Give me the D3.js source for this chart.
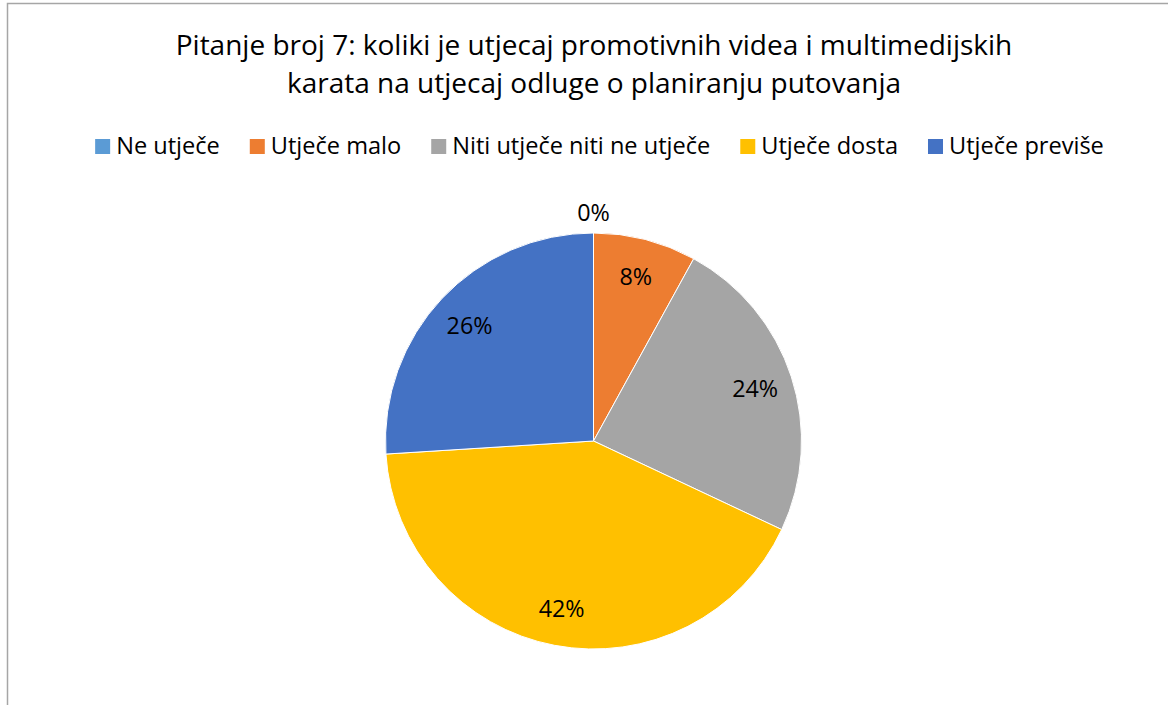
<!DOCTYPE html>
<html>
<head>
<meta charset="utf-8">
<script src="https://cdn.jsdelivr.net/npm/d3@7"></script>
<style>
  html, body { margin: 0; padding: 0; background: #fff; }
  svg { display: block; }
  text { font-family: "Open Sans", Lato, sans-serif; fill: #000; }
</style>
</head>
<body>
<svg id="chart" width="1168" height="705"></svg>
<script>
const titleLines = ["Pitanje broj 7: koliki je utjecaj promotivnih videa i multimedijskih",
                    "karata na utjecaj odluge o planiranju putovanja"];
const categories = ["Ne utječe", "Utječe malo", "Niti utječe niti ne utječe", "Utječe dosta", "Utječe previše"];
const counts = [0, 4, 12, 21, 13];
const colors = ["#5B9BD5", "#ED7D31", "#A5A5A5", "#FFC000", "#4472C4"];

const svg = d3.select("#chart");
const W = 1168, H = 705;

// chart border (extends past right/bottom edges)
svg.append("rect").attr("x", 7.5).attr("y", 3.5).attr("width", W + 20).attr("height", H + 20)
  .attr("fill", "#fff").attr("stroke", "#A6A6A6").attr("stroke-width", 1.5);

// title, font fitted to reference width
const title = svg.append("text").attr("text-anchor", "middle").attr("font-size", 24);
title.selectAll("tspan").data(titleLines).join("tspan")
  .attr("x", 594).attr("y", (d, i) => 55 + i * 38).text(d => d);
{
  const t1 = title.select("tspan").node();
  const w = t1.getComputedTextLength();
  title.attr("font-size", 24 * 837 / w);
}

// legend
const legendG = svg.append("g");
function layoutLegend(fs) {
  legendG.selectAll("*").remove();
  legendG.attr("font-size", fs);
  let lx = 0;
  categories.forEach((c, i) => {
    const g = legendG.append("g").attr("transform", `translate(${lx},0)`);
    g.append("rect").attr("x", 0).attr("y", 139).attr("width", 15).attr("height", 15).attr("fill", colors[i]);
    const t = g.append("text").attr("x", 21).attr("y", 153.5).text(c);
    const w = t.node().getComputedTextLength();
    lx += 21 + w + (i < categories.length - 1 ? 30 : 0);
  });
  return lx;
}
let total0 = layoutLegend(20);
let fsL = 20 * (1009 - 4 * 30 - 5 * 21) / (total0 - 4 * 30 - 5 * 21);
const totalL = layoutLegend(fsL);
legendG.attr("transform", `translate(${599.5 - totalL / 2},0)`);

// pie
const cx = 593.5, cy = 441, R = 208;
const total = d3.sum(counts);
const pie = d3.pie().value(d => d).sort(null).startAngle(0).endAngle(2 * Math.PI);
const arcs = pie(counts);
const arc = d3.arc().innerRadius(0).outerRadius(R);
const labelArc = d3.arc().innerRadius(170).outerRadius(170);
const outerLabelArc = d3.arc().innerRadius(R + 21).outerRadius(R + 21);

const pg = svg.append("g").attr("transform", `translate(${cx},${cy})`);
pg.selectAll("path").data(arcs).join("path")
  .attr("d", arc).attr("fill", (d, i) => colors[i])
  .attr("stroke", "#fff").attr("stroke-width", 1);

const labels = pg.selectAll("text.lbl").data(arcs).join("text").attr("class", "lbl")
  .attr("text-anchor", "middle").attr("dominant-baseline", "central").attr("font-size", 20)
  .attr("transform", d => {
    const c = (d.value === 0 ? outerLabelArc : labelArc).centroid(d);
    return `translate(${c[0]},${c[1]})`;
  })
  .text(d => Math.round(d.value / total * 100) + "%");
{
  const w42 = labels.filter(d => d.index === 3).node().getComputedTextLength();
  labels.attr("font-size", 20 * 46 / w42);
}
</script>
</body>
</html>
